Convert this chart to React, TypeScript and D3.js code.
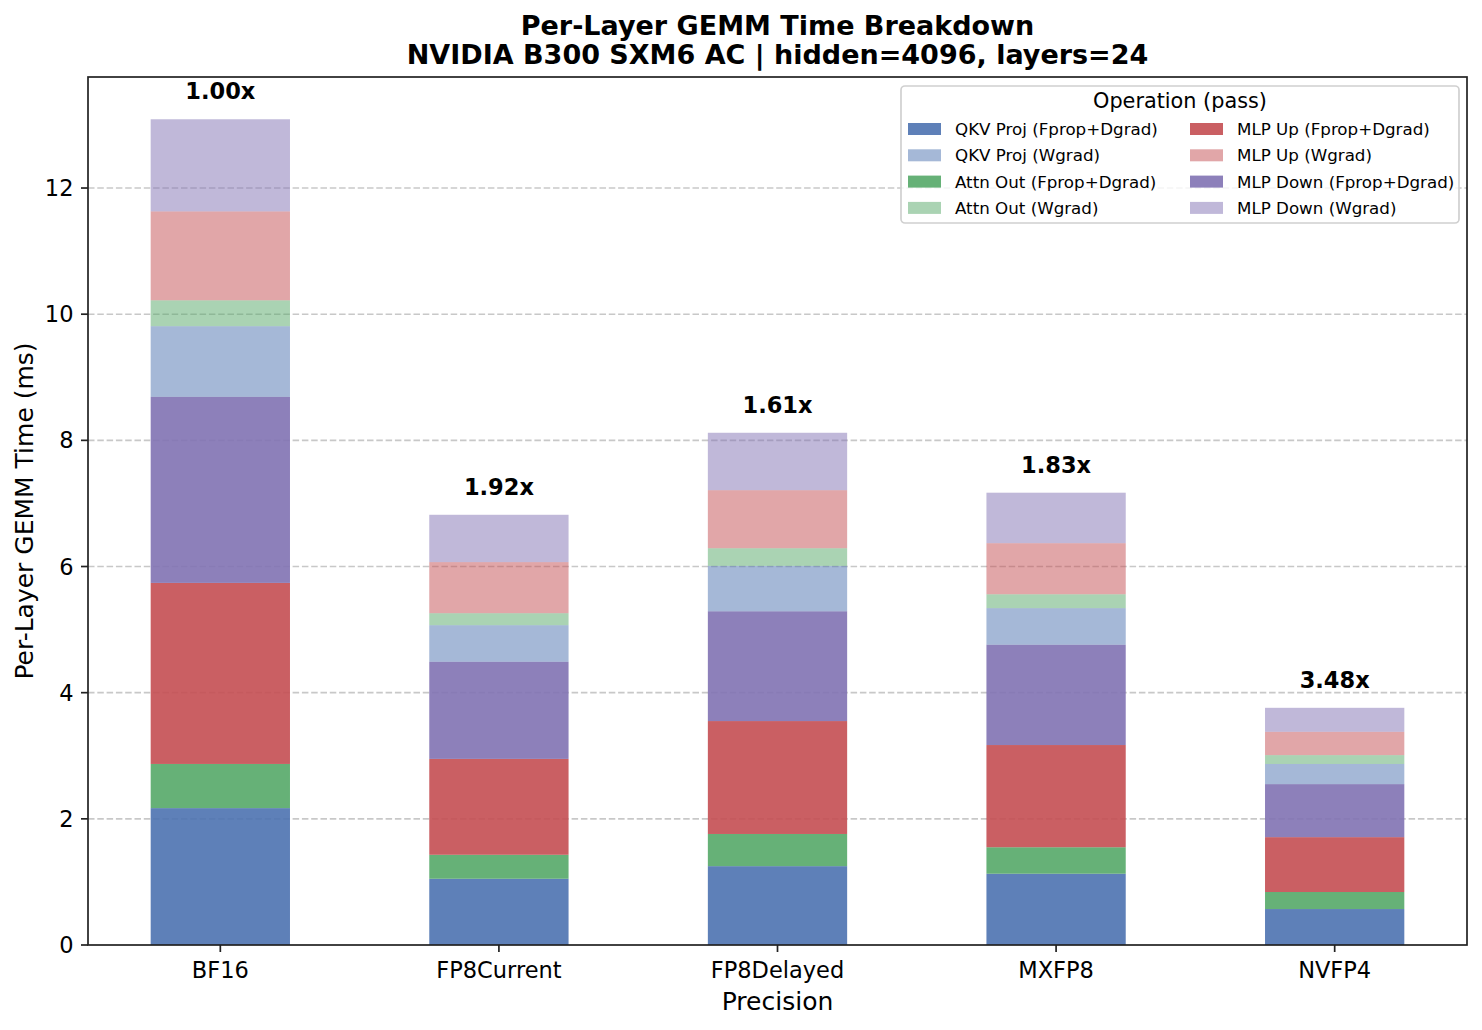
import React from "react";
import * as d3 from "d3";

const precisions = ["BF16", "FP8Current", "FP8Delayed", "MXFP8", "NVFP4"];
const speedups = ["1.00x", "1.92x", "1.61x", "1.83x", "3.48x"];

// per-layer GEMM times (ms), one array per stacked segment, bottom to top
const qkvFD = [2.17, 1.05, 1.25, 1.13, 0.57];
const attnFD = [0.7, 0.38, 0.51, 0.42, 0.27];
const upFD = [2.87, 1.52, 1.79, 1.62, 0.87];
const downFD = [2.95, 1.54, 1.74, 1.59, 0.84];
const qkvW = [1.12, 0.58, 0.72, 0.58, 0.32];
const attnW = [0.41, 0.19, 0.28, 0.22, 0.14];
const upW = [1.41, 0.81, 0.92, 0.81, 0.37];
const downW = [1.46, 0.75, 0.91, 0.8, 0.38];

const yTicks = [0, 2, 4, 6, 8, 10, 12];

const BLUE = "#4C72B0";
const GREEN = "#55A868";
const RED = "#C44E52";
const PURPLE = "#8172B3";

const segments = [
  { name: "QKV Proj (Fprop+Dgrad)", values: qkvFD, color: BLUE, alpha: 0.9 },
  { name: "Attn Out (Fprop+Dgrad)", values: attnFD, color: GREEN, alpha: 0.9 },
  { name: "MLP Up (Fprop+Dgrad)", values: upFD, color: RED, alpha: 0.9 },
  { name: "MLP Down (Fprop+Dgrad)", values: downFD, color: PURPLE, alpha: 0.9 },
  { name: "QKV Proj (Wgrad)", values: qkvW, color: BLUE, alpha: 0.5 },
  { name: "Attn Out (Wgrad)", values: attnW, color: GREEN, alpha: 0.5 },
  { name: "MLP Up (Wgrad)", values: upW, color: RED, alpha: 0.5 },
  { name: "MLP Down (Wgrad)", values: downW, color: PURPLE, alpha: 0.5 },
];

// legend order as shown (column-major, 2 cols)
const legendOrder = [
  "QKV Proj (Fprop+Dgrad)",
  "QKV Proj (Wgrad)",
  "Attn Out (Fprop+Dgrad)",
  "Attn Out (Wgrad)",
  "MLP Up (Fprop+Dgrad)",
  "MLP Up (Wgrad)",
  "MLP Down (Fprop+Dgrad)",
  "MLP Down (Wgrad)",
];

const W = 1482;
const H = 1030;
const margin = { top: 77, right: 15, bottom: 85, left: 88 };
const FONT = "DejaVu Sans, sans-serif";

const App: React.FC = () => {
  const x0 = margin.left;
  const x1 = W - margin.right;
  const y0 = H - margin.bottom;
  const y1 = margin.top;

  const x = d3.scaleLinear().domain([-0.475, 4.475]).range([x0, x1]);
  const y = d3.scaleLinear().domain([0, 13.76]).range([y0, y1]);
  const barW = x(0.5) - x(0);

  const rows = precisions.map((p, i) => {
    const o: Record<string, number | string> = { precision: p };
    segments.forEach((s) => (o[s.name] = s.values[i]));
    return o;
  });
  const stack = d3.stack<Record<string, number | string>>().keys(segments.map((s) => s.name));
  const series = stack(rows as any);
  const totals = precisions.map((_, i) => d3.sum(segments, (s) => s.values[i]));

  const legX = 901;
  const legY = 86;
  const legW = 558;
  const legH = 137;

  return (
    <div style={{ position: "absolute", left: 0, top: 0 }}>
      <svg width={W} height={H} style={{ display: "block", fontFamily: FONT }}>
        <rect width={W} height={H} fill="#fff" />
        <text x={(x0 + x1) / 2} y={35} textAnchor="middle" fontSize={27} fontWeight="bold">
          Per-Layer GEMM Time Breakdown
        </text>
        <text x={(x0 + x1) / 2} y={64} textAnchor="middle" fontSize={27} fontWeight="bold">
          NVIDIA B300 SXM6 AC | hidden=4096, layers=24
        </text>

        {/* grid */}
        {yTicks.slice(1).map((t) => (
          <line
            key={t}
            x1={x0}
            x2={x1}
            y1={y(t)}
            y2={y(t)}
            stroke="#b0b0b0"
            strokeOpacity={0.7}
            strokeDasharray="6.5,2.8"
            strokeWidth={1.6}
          />
        ))}

        {/* bars */}
        {series.map((s, si) => (
          <g key={s.key} fill={segments[si].color} fillOpacity={segments[si].alpha}>
            {s.map((d, i) => (
              <rect
                key={i}
                x={x(i) - barW / 2}
                width={barW}
                y={y(d[1])}
                height={y(d[0]) - y(d[1])}
              />
            ))}
          </g>
        ))}

        {/* speedup labels */}
        {precisions.map((p, i) => (
          <text
            key={p}
            x={x(i)}
            y={y(totals[i] + 0.32)}
            textAnchor="middle"
            fontSize={22.5}
            fontWeight="bold"
          >
            {speedups[i]}
          </text>
        ))}

        {/* axes frame */}
        <rect x={x0} y={y1} width={x1 - x0} height={y0 - y1} fill="none" stroke="#222" strokeWidth={1.7} />

        {/* y ticks */}
        {yTicks.map((t) => (
          <g key={t} transform={`translate(${x0},${y(t)})`}>
            <line x1={-7} x2={0} stroke="#222" strokeWidth={1.7} />
            <text x={-14.5} dy="0.36em" textAnchor="end" fontSize={22.5}>
              {t}
            </text>
          </g>
        ))}

        {/* x ticks */}
        {precisions.map((p, i) => (
          <g key={p} transform={`translate(${x(i)},${y0})`}>
            <line y1={0} y2={7} stroke="#222" strokeWidth={1.7} />
            <text y={33} textAnchor="middle" fontSize={22.5}>
              {p}
            </text>
          </g>
        ))}

        <text x={(x0 + x1) / 2} y={1010} textAnchor="middle" fontSize={25}>
          Precision
        </text>
        <text
          transform={`translate(33,${(y0 + y1) / 2}) rotate(-90)`}
          textAnchor="middle"
          fontSize={25}
        >
          Per-Layer GEMM Time (ms)
        </text>

        {/* legend */}
        <g>
          <rect
            x={legX}
            y={legY}
            width={legW}
            height={legH}
            rx={4}
            fill="#fff"
            fillOpacity={0.8}
            stroke="#d0d0d0"
            strokeWidth={1.7}
          />
          <text x={legX + legW / 2} y={legY + 15} dy="0.36em" textAnchor="middle" fontSize={20.8}>
            Operation (pass)
          </text>
          {legendOrder.map((name, k) => {
            const seg = segments.find((s) => s.name === name)!;
            const col = Math.floor(k / 4);
            const row = k % 4;
            const px = legX + 7 + col * 282;
            const py = legY + 43 + row * 26.3;
            return (
              <g key={name} transform={`translate(${px},${py})`}>
                <rect x={0} y={-6} width={33} height={12} fill={seg.color} fillOpacity={seg.alpha} />
                <text x={47} dy="0.36em" fontSize={16.7}>
                  {name}
                </text>
              </g>
            );
          })}
        </g>
      </svg>
    </div>
  );
};

export default App;
